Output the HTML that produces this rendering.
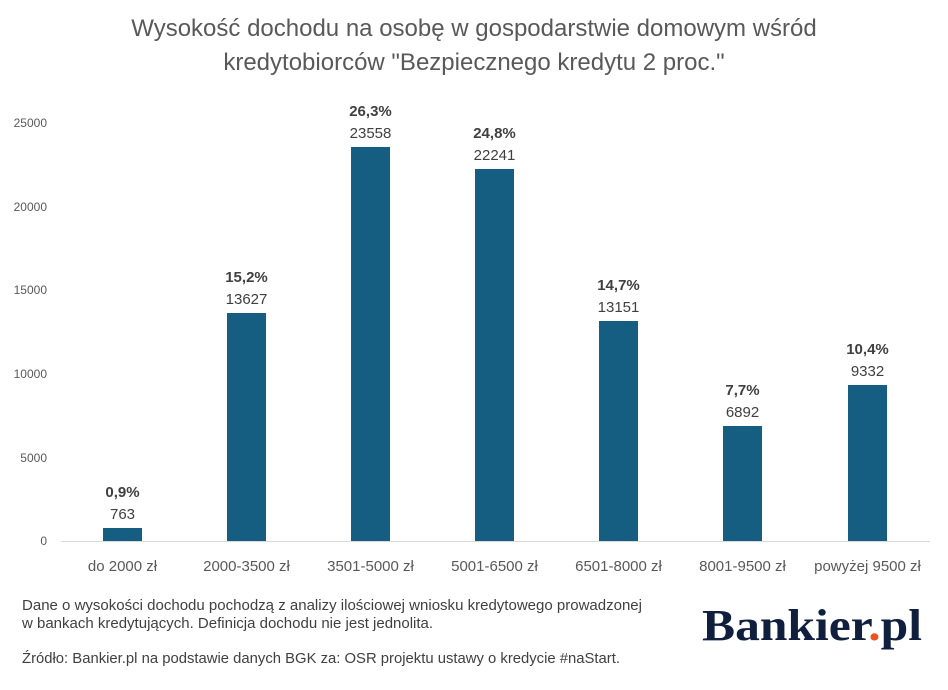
<!DOCTYPE html>
<html><head><meta charset="utf-8"><style>
body{margin:0;background:#fff;}
svg{display:block;font-family:"Liberation Sans",sans-serif;}
</style></head><body>
<svg width="948" height="690" viewBox="0 0 948 690" xmlns="http://www.w3.org/2000/svg">
<rect width="948" height="690" fill="#fff"/>
<text x="474" y="36" text-anchor="middle" font-size="24" fill="#595959">Wysokość dochodu na osobę w gospodarstwie domowym wśród</text>
<text x="474" y="70" text-anchor="middle" font-size="24" fill="#595959">kredytobiorców "Bezpiecznego kredytu 2 proc."</text>
<g font-size="12" fill="#595959" text-anchor="end">
<text x="47" y="545">0</text>
<text x="47" y="462">5000</text>
<text x="47" y="378">10000</text>
<text x="47" y="294">15000</text>
<text x="47" y="211">20000</text>
<text x="47" y="127">25000</text>
</g>
<line x1="61" y1="541.5" x2="930" y2="541.5" stroke="#d9d9d9" stroke-width="1"/>
<g fill="#155e82">
<rect x="103" y="528" width="39" height="13"/>
<rect x="227" y="313" width="39" height="228"/>
<rect x="351" y="147" width="39" height="394"/>
<rect x="475" y="169" width="39" height="372"/>
<rect x="599" y="321" width="39" height="220"/>
<rect x="723" y="426" width="39" height="115"/>
<rect x="848" y="385" width="39" height="156"/>
</g>
<g font-size="15" text-anchor="middle" fill="#404040">
<text x="122.5" y="497" font-weight="bold">0,9%</text><text x="122.5" y="519">763</text>
<text x="246.5" y="282" font-weight="bold">15,2%</text><text x="246.5" y="304">13627</text>
<text x="370.5" y="116" font-weight="bold">26,3%</text><text x="370.5" y="138">23558</text>
<text x="494.5" y="138" font-weight="bold">24,8%</text><text x="494.5" y="160">22241</text>
<text x="618.5" y="290" font-weight="bold">14,7%</text><text x="618.5" y="312">13151</text>
<text x="742.5" y="395" font-weight="bold">7,7%</text><text x="742.5" y="417">6892</text>
<text x="867.5" y="354" font-weight="bold">10,4%</text><text x="867.5" y="376">9332</text>
</g>
<g font-size="15" text-anchor="middle" fill="#595959">
<text x="122.5" y="571">do 2000 zł</text>
<text x="246.5" y="571">2000-3500 zł</text>
<text x="370.5" y="571">3501-5000 zł</text>
<text x="494.5" y="571">5001-6500 zł</text>
<text x="618.5" y="571">6501-8000 zł</text>
<text x="742.5" y="571">8001-9500 zł</text>
<text x="867.5" y="571">powyżej 9500 zł</text>
</g>
<g font-size="15" fill="#404040">
<text x="22" y="610" textLength="620" lengthAdjust="spacingAndGlyphs">Dane o wysokości dochodu pochodzą z analizy ilościowej wniosku kredytowego prowadzonej</text>
<text x="22" y="628">w bankach kredytujących. Definicja dochodu nie jest jednolita.</text>
<text x="22" y="663" textLength="598" lengthAdjust="spacingAndGlyphs">Źródło: Bankier.pl na podstawie danych BGK za: OSR projektu ustawy o kredycie #naStart.</text>
</g>
<text x="702" y="640" font-family="Liberation Serif,serif" font-weight="bold" font-size="44" fill="#0f1f3d" textLength="220" lengthAdjust="spacingAndGlyphs">Bankier<tspan fill="#e8531e">.</tspan>pl</text>
</svg>
</body></html>
